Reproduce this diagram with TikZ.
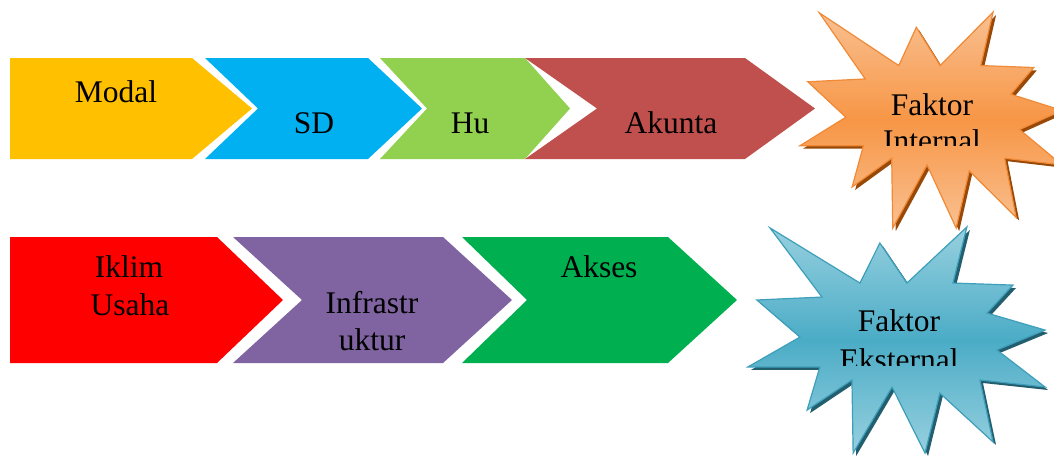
\documentclass[tikz,border=0pt]{standalone}
\usepackage{fontspec}
\setmainfont{Liberation Serif}
\definecolor{cModal}{HTML}{FFC000}
\definecolor{cSD}{HTML}{00B0F0}
\definecolor{cHu}{HTML}{92D050}
\definecolor{cAkun}{HTML}{C0504D}
\definecolor{cIklim}{HTML}{FF0000}
\definecolor{cInfra}{HTML}{8064A2}
\definecolor{cAkses}{HTML}{00B050}
\definecolor{orLight}{HTML}{F9C091}
\definecolor{orMid}{HTML}{F79646}
\definecolor{orLine}{HTML}{F08A36}
\definecolor{orShadow}{HTML}{984807}
\definecolor{blLight}{HTML}{97D0DF}
\definecolor{blMid}{HTML}{4BACC6}
\definecolor{blLine}{HTML}{3E9FBA}
\definecolor{blShadow}{HTML}{235E6E}
\def\sealpts{(7.4,0.4) -- (37.7,24.8) -- (44.4,7.1) -- (53.5,24.8) -- (73.7,0) -- (69.0,24.8) -- (89.2,25.7) -- (80.5,38.1) -- (100,45.6) -- (83.8,54.4) -- (100,70.8) -- (78.1,67.7) -- (82.5,95.1) -- (64.6,73.5) -- (59.6,100) -- (48.5,70.8) -- (35.4,100) -- (35.0,67.7) -- (19.9,81.0) -- (24.2,61.9) -- (0,61.9) -- (17.5,48.7) -- (3.0,32.3) -- (24.9,31.0) -- cycle}
\begin{document}
\begin{tikzpicture}[x=1pt,y=-1pt,
  lbl/.style={anchor=base, inner sep=0pt, font=\fontsize{31.5}{37}\selectfont}]
\useasboundingbox[fill=white] (0,0) rectangle (1054,461);
% top row
\fill[cModal] (10,58) -- (192,58) -- (252,108.5) -- (192,159) -- (10,159) -- cycle;
\fill[cSD] (205,58) -- (368,58) -- (422,108.5) -- (368,159) -- (205,159) -- (258,108.5) -- cycle;
\fill[cHu] (380,58) -- (525,58) -- (570,108.5) -- (525,159) -- (380,159) -- (427,108.5) -- cycle;
\fill[cAkun] (525,58) -- (745,58) -- (815,108.5) -- (745,159) -- (525,159) -- (597,108.5) -- cycle;
\node[lbl] (modal) at (116,102) {Modal};
\node[lbl] (sd) at (314,133) {SD};
\node[lbl] (hu) at (470,133) {Hu};
\node[lbl] (akunta) at (671,133) {Akunta};
% bottom row
\fill[cIklim] (10,237) -- (217,237) -- (283,300) -- (217,363) -- (10,363) -- cycle;
\fill[cInfra] (233,237) -- (443,237) -- (512,300) -- (443,363) -- (233,363) -- (302,300) -- cycle;
\fill[cAkses] (462,237) -- (668,237) -- (737,300) -- (668,363) -- (462,363) -- (527,300) -- cycle;
\node[lbl] (iklim1) at (129,277) {Iklim};
\node[lbl] (iklim2) at (130,315) {Usaha};
\node[lbl] (infra1) at (372,313) {Infrastr};
\node[lbl] (infra2) at (372,350) {uktur};
\node[lbl] (akses) at (599,277) {Akses};
% blue seal
\begin{scope}[shift={(751,230)}, x=2.97pt, y=-2.26pt]
  \fill[blShadow] \sealpts;
\end{scope}
\begin{scope}[shift={(748,227)}, x=2.97pt, y=-2.26pt]
  \path[top color=blLight, bottom color=blLight, middle color=blMid, draw=blLine, line width=1.2pt] \sealpts;
\end{scope}
% orange seal
\begin{scope}[shift={(803,15)}, x=2.62pt, y=-2.16pt]
  \fill[orShadow] \sealpts;
\end{scope}
\begin{scope}[shift={(800,12)}, x=2.62pt, y=-2.16pt]
  \path[top color=orLight, bottom color=orLight, middle color=orMid, draw=orLine, line width=1.2pt] \sealpts;
\end{scope}
\begin{scope}
  \clip (840,60) rectangle (1025,145);
  \node[lbl] (fint1) at (932,115) {Faktor};
  \node[lbl] (fint2) at (932,151) {Internal};
\end{scope}
\begin{scope}
  \clip (800,280) rectangle (1000,365);
  \node[lbl] (fext1) at (899,331) {Faktor};
  \node[lbl] (fext2) at (899,370) {Eksternal};
\end{scope}
\end{tikzpicture}
\end{document}
